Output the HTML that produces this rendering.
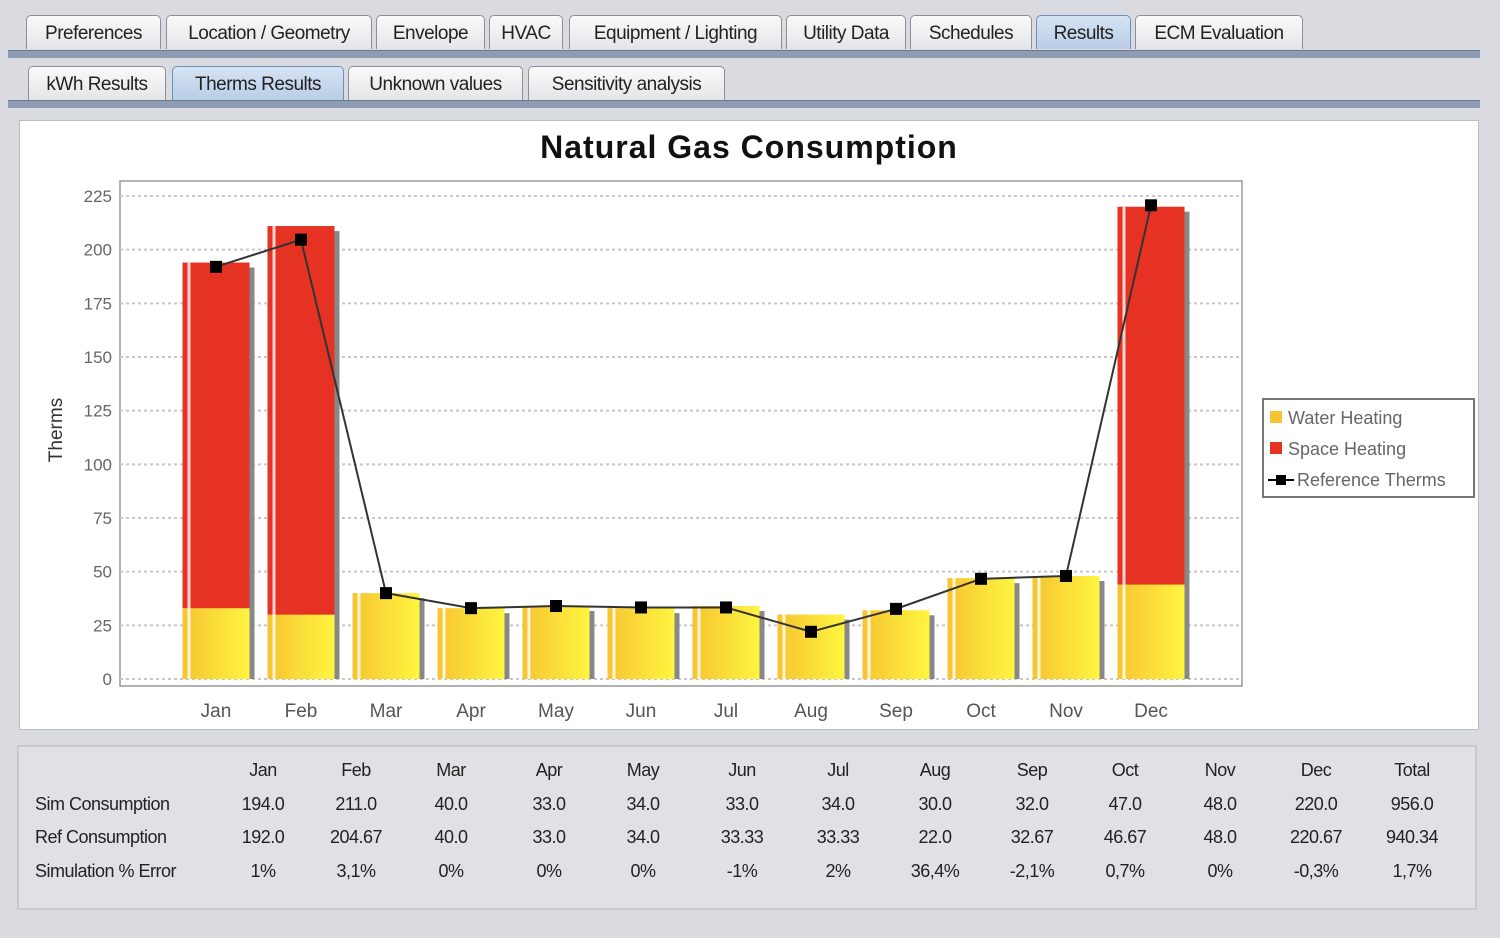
<!DOCTYPE html>
<html><head><meta charset="utf-8"><style>
body{margin:0;width:1500px;height:938px;background:#d9dbe0;font-family:"Liberation Sans",sans-serif;position:relative;overflow:hidden}
.tab{position:absolute;height:34px;border:1px solid #8a8f98;border-bottom:none;border-radius:5px 5px 0 0;background:linear-gradient(#fafafa,#e4e5e8);font-size:19px;color:#222;text-align:center;line-height:36px;box-sizing:border-box;letter-spacing:-0.5px}
.tab.sel{background:linear-gradient(#d6e4f4,#b9cde6);border-color:#6f8fb8}
.bar{position:absolute;left:8px;width:1472px;height:7px;background:#8d9cb3;border-top:1px solid #6f7c90}
#chartp{position:absolute;left:19px;top:120px;width:1458px;height:608px;background:#fff;border:1px solid #b8bcc4}
#tablep{position:absolute;left:17px;top:745px;width:1460px;height:165px;border:2px solid #c6c9cf;background:#dfe1e5;box-sizing:border-box}
.cell{position:absolute;font-size:18px;color:#222;transform:translateX(-50%);letter-spacing:-0.5px}
.lab{position:absolute;font-size:18px;color:#222;left:16px;letter-spacing:-0.5px}
</style></head><body>
<div id="tabs1">
<div class="tab" style="left:26px;top:15px;width:135px">Preferences</div>
<div class="tab" style="left:166px;top:15px;width:206px">Location / Geometry</div>
<div class="tab" style="left:376px;top:15px;width:109px">Envelope</div>
<div class="tab" style="left:489px;top:15px;width:74px">HVAC</div>
<div class="tab" style="left:569px;top:15px;width:213px">Equipment / Lighting</div>
<div class="tab" style="left:786px;top:15px;width:120px">Utility Data</div>
<div class="tab" style="left:910px;top:15px;width:122px">Schedules</div>
<div class="tab sel" style="left:1036px;top:15px;width:95px">Results</div>
<div class="tab" style="left:1135px;top:15px;width:168px">ECM Evaluation</div>
</div>
<div class="bar" style="top:50px"></div>
<div class="tab" style="left:28px;top:66px;width:138px">kWh Results</div>
<div class="tab sel" style="left:172px;top:66px;width:172px">Therms Results</div>
<div class="tab" style="left:348px;top:66px;width:175px">Unknown values</div>
<div class="tab" style="left:528px;top:66px;width:197px">Sensitivity analysis</div>
<div class="bar" style="top:100px"></div>
<div id="chartp"></div>
<svg id="chart" width="1500" height="938" style="position:absolute;left:0;top:0">
<defs><linearGradient id="yg" x1="0" x2="1"><stop offset="0" stop-color="#f6c431"/><stop offset="1" stop-color="#fff540"/></linearGradient></defs>
</svg>
<div id="tablep"></div>
<script>
const months=["Jan","Feb","Mar","Apr","May","Jun","Jul","Aug","Sep","Oct","Nov","Dec"];
const waterHeating=[33,30,40,33,34,33,34,30,32,47,48,44];
const spaceHeating=[161,181,0,0,0,0,0,0,0,0,0,176];
const refTherms=[192,204.67,40,33,34,33.33,33.33,22,32.67,46.67,48,220.67];
const yTicks=[0,25,50,75,100,125,150,175,200,225];
const simRow=["194.0","211.0","40.0","33.0","34.0","33.0","34.0","30.0","32.0","47.0","48.0","220.0","956.0"];
const refRow=["192.0","204.67","40.0","33.0","34.0","33.33","33.33","22.0","32.67","46.67","48.0","220.67","940.34"];
const errRow=["1%","3,1%","0%","0%","0%","-1%","2%","36,4%","-2,1%","0,7%","0%","-0,3%","1,7%"];
const NS="http://www.w3.org/2000/svg";
const svg=document.getElementById('chart');
const X0=120,X1=1242,Y0=181,Y1=686;
const yv=v=>679-v*(679-196)/225;
const xc=i=>216+i*85;
const BW=67;
function mk(t,a,p){const e=document.createElementNS(NS,t);for(const k in a)e.setAttribute(k,a[k]);(p||svg).appendChild(e);return e;}
const pa=mk('rect',{x:X0,y:Y0,width:X1-X0,height:Y1-Y0,fill:'#fff',stroke:'#999','stroke-width':1.5});

yTicks.forEach(v=>{
 const g=mk('line',{x1:X0,x2:X1,y1:yv(v),y2:yv(v),stroke:'#c8c8c8','stroke-width':2,'stroke-dasharray':'3,3'});
 
 const t=mk('text',{x:X0-8,y:yv(v)+6,'text-anchor':'end','font-size':17,fill:'#666'});t.textContent=v;
 
});
const yt=mk('text',{x:62,y:430,'text-anchor':'middle','font-size':19,fill:'#333',transform:'rotate(-90 62 430)'});yt.textContent='Therms';

const tt=mk('text',{x:749,y:158,'text-anchor':'middle','font-size':32,'font-weight':'bold',fill:'#111','letter-spacing':'1'});tt.textContent='Natural Gas Consumption';

months.forEach((m,i)=>{
 const x=xc(i)-BW/2, w=waterHeating[i], s=spaceHeating[i];
 const sh=mk('rect',{x:x+5,y:yv(w+s)+5,width:BW,height:yv(0)-yv(w+s)-5,fill:'#888'});
 
 const b=mk('rect',{x:x,y:yv(w),width:BW,height:yv(0)-yv(w),fill:'url(#yg)'});
 
 if(s>0){const r=mk('rect',{x:x,y:yv(w+s),width:BW,height:yv(w)-yv(w+s),fill:'#e53222'});
 }
 const hl=mk('rect',{x:x+5,y:yv(w+s),width:3,height:yv(0)-yv(w+s),fill:'#fff',opacity:0.8});
 
 const lt=mk('text',{x:xc(i),y:717,'text-anchor':'middle','font-size':19,fill:'#555'});lt.textContent=m;
 
});
const ln=mk('polyline',{points:refTherms.map((v,i)=>xc(i)+','+yv(v)).join(' '),fill:'none',stroke:'#333','stroke-width':2});

refTherms.forEach((v,i)=>{const p=mk('rect',{x:xc(i)-6,y:yv(v)-6,width:12,height:12,fill:'#000'});
 });
const lg=mk('g',{});
mk('rect',{x:1263,y:399,width:211,height:98,fill:'#fff',stroke:'#777','stroke-width':2},lg);
[['Water Heating','#f6c431'],['Space Heating','#e53222']].forEach((e,k)=>{
 mk('rect',{x:1270,y:411+k*31,width:12,height:12,fill:e[1]},lg);
 const t=mk('text',{x:1288,y:424+k*31,'font-size':18,fill:'#666'},lg);t.textContent=e[0];
 });
mk('line',{x1:1268,x2:1294,y1:480,y2:480,stroke:'#000','stroke-width':2},lg);
mk('rect',{x:1276,y:475,width:10,height:10,fill:'#000'},lg);
const lt3=mk('text',{x:1297,y:486,'font-size':18,fill:'#666'},lg);lt3.textContent='Reference Therms';


const tp=document.getElementById('tablep');
const cols=[...months,'Total'];
const cx=[261,354,449,547,641,740,836,933,1030,1123,1218,1314,1410];
function cell(txt,x,y,cls,name){const d=document.createElement('div');d.className=cls;d.textContent=txt;
 if(cls==='cell')d.style.left=(x-17)+'px';d.style.top=(y-745-12)+'px';
 
 
 tp.appendChild(d);}
cols.forEach((c,i)=>cell(c,cx[i],770,'cell','column-header'));
[['Sim Consumption',simRow,804],['Ref Consumption',refRow,837],['Simulation % Error',errRow,871]].forEach(r=>{
 cell(r[0],0,r[2],'lab','row-label');
 r[1].forEach((v,i)=>cell(v,cx[i],r[2],'cell','table-cell'));});
</script>
</body></html>
